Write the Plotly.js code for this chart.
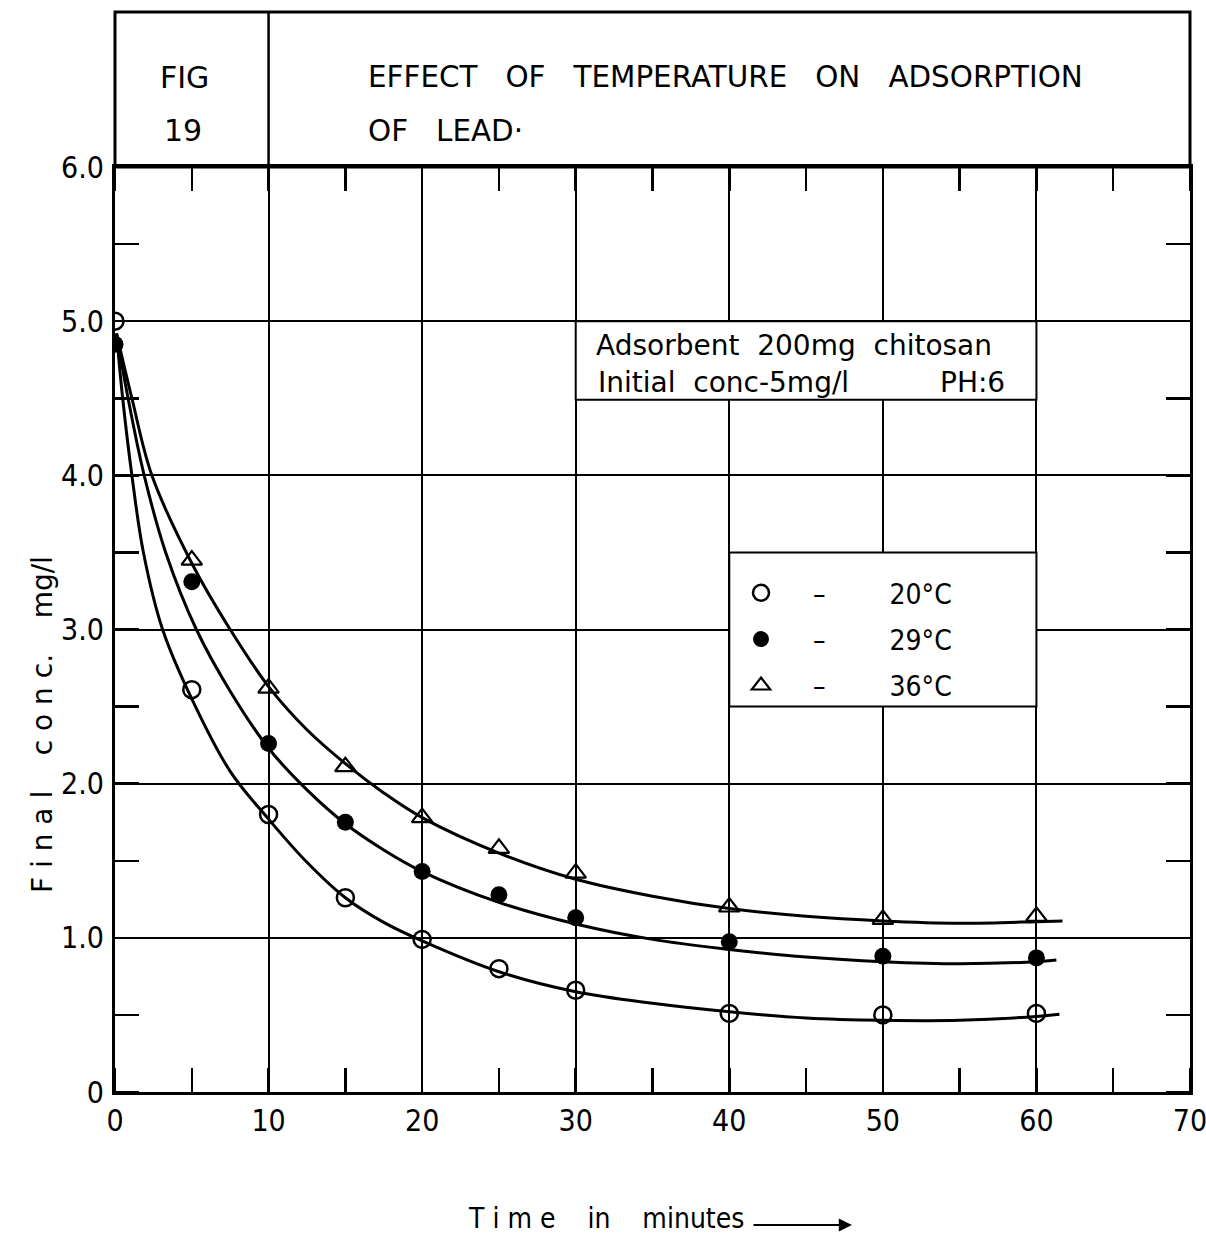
<!DOCTYPE html>
<html>
<head>
<meta charset="utf-8">
<script src="https://cdn.plot.ly/plotly-3.0.1.min.js"></script>
<style>html,body{margin:0;padding:0;background:#fff;}#chart{width:1206px;height:1236px;}</style>
</head>
<body>
<div id="chart"></div>
<script>
// Measured points
const time = [0, 5, 10, 15, 20, 25, 30, 40, 50, 60];
const conc20 = [5.0, 2.61, 1.80, 1.26, 0.99, 0.80, 0.66, 0.51, 0.50, 0.51];
const conc29 = [4.85, 3.31, 2.26, 1.75, 1.43, 1.28, 1.13, 0.975, 0.88, 0.87];
const time36 = [5, 10, 15, 20, 25, 30, 40, 50, 60];
const conc36 = [3.45, 2.62, 2.11, 1.78, 1.58, 1.42, 1.20, 1.12, 1.14];

// Hand-drawn fitted curves
const fitT20 = [0.1, 0.5, 1.1, 1.85, 3.1, 5, 7.5, 10, 12.5, 15, 17.5, 20, 25, 30, 35, 40, 45, 50, 55, 60, 61.5];
const fit20  = [4.92, 4.5, 4.0, 3.5, 3.0, 2.55, 2.08, 1.77, 1.49, 1.26, 1.10, 0.98, 0.78, 0.65, 0.575, 0.52, 0.48, 0.465, 0.465, 0.49, 0.505];
const fitT29 = [0.1, 0.85, 1.9, 3.3, 5.3, 7.5, 10, 12.5, 15, 17.5, 20, 25, 30, 35, 40, 45, 50, 55, 60, 61.3];
const fit29  = [4.92, 4.5, 4.0, 3.5, 3.0, 2.6, 2.23, 1.96, 1.74, 1.57, 1.43, 1.23, 1.09, 0.99, 0.925, 0.875, 0.845, 0.832, 0.845, 0.856];
const fitT36 = [0.1, 1.1, 2.4, 5, 7.5, 10, 12.5, 15, 17.5, 20, 25, 30, 35, 40, 45, 50, 55, 60, 61.7];
const fit36  = [4.92, 4.5, 4.0, 3.43, 3.0, 2.63, 2.35, 2.13, 1.94, 1.78, 1.55, 1.38, 1.27, 1.19, 1.14, 1.11, 1.095, 1.105, 1.11];

const xTicks = [0, 10, 20, 30, 40, 50, 60, 70];
const xTickText = ['0', '10', '20', '30', '40', '50', '60', '70'];
const yTicks = [0, 1, 2, 3, 4, 5, 6];
const yTickText = ['0', '1.0', '2.0', '3.0', '4.0', '5.0', '6.0'];

const seriesNames = ['20°C', '29°C', '36°C'];

const NB = '\u00a0';
const sp = n => NB.repeat(n);
const legName = s => sp(4) + '–' + sp(8) + s;

const COND = 'DejaVu Sans Condensed, DejaVu Sans, sans-serif';
const WIDE = 'DejaVu Sans, sans-serif';
const NARROW = 'Liberation Sans Narrow, DejaVu Sans Condensed, sans-serif';

const fitLine = {color: '#000', width: 3, shape: 'spline', smoothing: 1};

const traces = [
  {x: fitT20, y: fit20, mode: 'lines', line: fitLine, showlegend: false, hoverinfo: 'skip'},
  {x: fitT29, y: fit29, mode: 'lines', line: fitLine, showlegend: false, hoverinfo: 'skip'},
  {x: fitT36, y: fit36, mode: 'lines', line: fitLine, showlegend: false, hoverinfo: 'skip'},
  {x: time, y: conc20, mode: 'markers', name: legName(seriesNames[0]), legendgroup: 'a',
   marker: {symbol: 'circle-open', size: 17, color: '#000', line: {width: 2.5, color: '#000'}}},
  {x: time, y: conc29, mode: 'markers', name: legName(seriesNames[1]), legendgroup: 'b',
   marker: {symbol: 'circle', size: 17, color: '#000'}},
  {x: time36, y: conc36, mode: 'markers', name: legName(seriesNames[2]), legendgroup: 'c',
   marker: {symbol: 'triangle-up-open', size: 18, color: '#000', line: {width: 2.2, color: '#000'}}}
];

const L = 115, R = 1190, T = 167, B = 1092;
const px = p => (p - L) / (R - L);
const py = p => (B - p) / (B - T);

const axisCommon = {
  showgrid: true, gridcolor: '#000', gridwidth: 2,
  showline: true, linecolor: '#000', linewidth: 3, mirror: 'ticks',
  zeroline: false, ticks: '', ticklabeloverflow: 'allow',
  tickfont: {family: NARROW, size: 30, color: '#000'},
  fixedrange: true
};

function ann(text, x, y, size, family, extra) {
  return Object.assign({text: text, xref: 'paper', yref: 'paper', x: px(x), y: py(y),
    xanchor: 'center', yanchor: 'middle', showarrow: false,
    font: {family: family, size: size, color: '#000'}}, extra || {});
}

const layout = {
  width: 1206, height: 1236,
  margin: {l: L, r: 1206 - R, t: T, b: 1236 - B},
  paper_bgcolor: '#fff', plot_bgcolor: '#fff',
  font: {family: COND, color: '#000'},
  showlegend: true,
  legend: {
    x: px(741), y: py(568), xanchor: 'left', yanchor: 'top',
    bgcolor: 'rgba(0,0,0,0)', borderwidth: 0,
    font: {family: COND, size: 28, color: '#000'},
    tracegroupgap: 7, traceorder: 'grouped'
  },
  xaxis: Object.assign({}, axisCommon, {
    range: [0, 70.0001], tickmode: 'array', tickvals: xTicks, ticktext: xTickText,
    ticklabelstandoff: 0,
    minor: {ticks: 'inside', ticklen: 24, tickwidth: 2.5, tickcolor: '#000', dtick: 5, tick0: 0, showgrid: false}
  }),
  yaxis: Object.assign({}, axisCommon, {
    range: [0, 6.0001], tickmode: 'array', tickvals: yTicks, ticktext: yTickText,
    ticklabelstandoff: 2,
    minor: {ticks: 'inside', ticklen: 24, tickwidth: 2.5, tickcolor: '#000', dtick: 0.5, tick0: 0, showgrid: false}
  }),
  shapes: [
    {type: 'rect', xref: 'paper', yref: 'paper', x0: 0, x1: 1, y0: 1, y1: py(12), line: {color: '#000', width: 3}},
    {type: 'line', xref: 'x', yref: 'paper', x0: 10, x1: 10, y0: 1, y1: py(12), line: {color: '#000', width: 2.5}},
    {type: 'rect', xref: 'x', yref: 'y', x0: 30, x1: 60, y0: 4.49, y1: 5.0, layer: 'between',
     fillcolor: '#fff', line: {color: '#000', width: 2}},
    {type: 'rect', xref: 'x', yref: 'y', x0: 40, x1: 60, y0: 2.5, y1: 3.5, layer: 'between',
     fillcolor: '#fff', line: {color: '#000', width: 2}}
  ],
  annotations: [
    ann('FIG', 184, 77, 30, WIDE),
    ann('19', 183, 131, 30, WIDE),
    ann('EFFECT' + sp(3) + 'OF' + sp(3) + 'TEMPERATURE' + sp(3) + 'ON' + sp(3) + 'ADSORPTION', 366, 77, 29.4, WIDE, {xanchor: 'left'}),
    ann('OF' + sp(3) + 'LEAD·', 366, 131, 29.4, WIDE, {xanchor: 'left'}),
    ann('Adsorbent' + sp(2) + '200mg' + sp(2) + 'chitosan', 594, 345, 28, WIDE, {xanchor: 'left'}),
    ann('Initial' + sp(2) + 'conc-5mg/l', 596, 382, 28, WIDE, {xanchor: 'left'}),
    ann('PH:6', 938, 382, 28, WIDE, {xanchor: 'left'}),
    ann('F i n a l' + sp(4) + 'c o n c.' + sp(4) + 'mg/l', 42, 725, 28, WIDE, {textangle: -90}),
    ann('T i m e' + sp(4) + 'in' + sp(4) + 'minutes', 606, 1218, 28, COND),
    {text: '', xref: 'paper', yref: 'paper', x: px(852), y: py(1225), ax: -100, ay: 0,
     showarrow: true, arrowhead: 2, arrowsize: 1.2, arrowwidth: 2.2, arrowcolor: '#000'}
  ]
};

Plotly.newPlot('chart', traces, layout, {staticPlot: true, displayModeBar: false});
</script>
</body>
</html>
